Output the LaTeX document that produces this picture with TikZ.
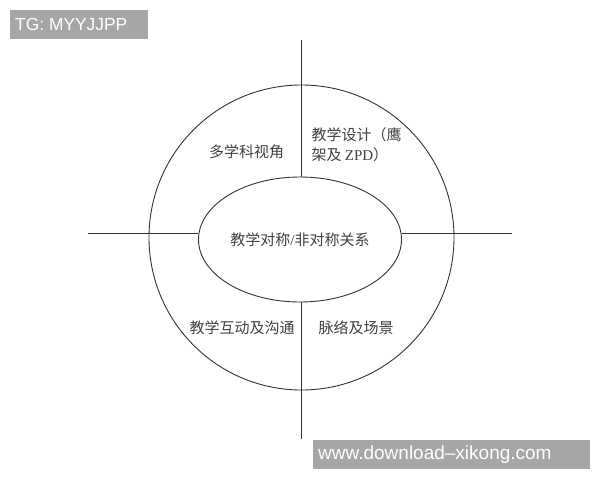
\documentclass[tikz,border=0pt]{standalone}
\usepackage{fontspec}
\setmainfont{Liberation Serif}
\newfontfamily\cjk{Noto Sans CJK SC}
\newfontfamily\marksf{Liberation Sans}
\usetikzlibrary{positioning, shapes.geometric, calc}
\tikzset{
  ring/.style={
	draw=black!80, % dark grey outline
	line width=0.9pt,
	inner sep=0pt,
  },
  quad/.style={
	font=\cjk\fontsize{15}{20}\selectfont, % label font of the four parts
	text=black!75,
	align=left,
  },
  axis/.style={draw=black!80, line width=0.9pt}, % the crossing lines
  markbox/.style={
	fill=black!35, text=white, inner sep=0pt, anchor=north west, % grey tag boxes
  },
}

\begin{document}
\begin{tikzpicture}[x=1pt, y=-1pt]
	\useasboundingbox (0,0) rectangle (600,480);

	\node[ring, circle, minimum size=305pt] (O) at (301.5,237.5) {};
	\node[ring, ellipse, minimum width=203pt, minimum height=125pt, quad] (E) at (300,239.5) {教学对称{\rmfamily/}非对称关系};

	\coordinate (top) at (301.7,40);
	\coordinate (bot) at (301.7,439);
	\coordinate (lft) at (88,233);
	\coordinate (rgt) at (512,233);

	\draw[axis] (top) -- (top |- E.north);
	\draw[axis] (bot |- E.south) -- (bot);
	\draw[axis] (lft) -- (lft -| E.west);
	\draw[axis] (rgt -| E.east) -- (rgt);

	\node[quad] (view) at (246.5,152) {多学科视角};
	\node[quad, anchor=west] (design) at (308,145) {教学设计（鹰\\架及 {\rmfamily ZPD}）};
	\node[quad] (talk) at (242,328) {教学互动及沟通};
	\node[quad] (scene) at (356,328) {脉络及场景};

	\node[markbox, minimum width=138pt, minimum height=29pt] (tg) at (10,10) {};
	\node[text=white, font=\marksf\fontsize{17.4}{20}\selectfont, anchor=west, inner sep=0pt] (tgtext) at ($(tg.west)+(5,0)$) {TG: MYYJJPP};

	\node[markbox, minimum width=277pt, minimum height=29pt] (web) at (313,440) {};
	\node[text=white, font=\marksf\fontsize{19}{22}\selectfont, anchor=west, inner sep=0pt] (webtext) at ($(web.west)+(5,0)$) {www.download–xikong.com};
\end{tikzpicture}
\end{document}
